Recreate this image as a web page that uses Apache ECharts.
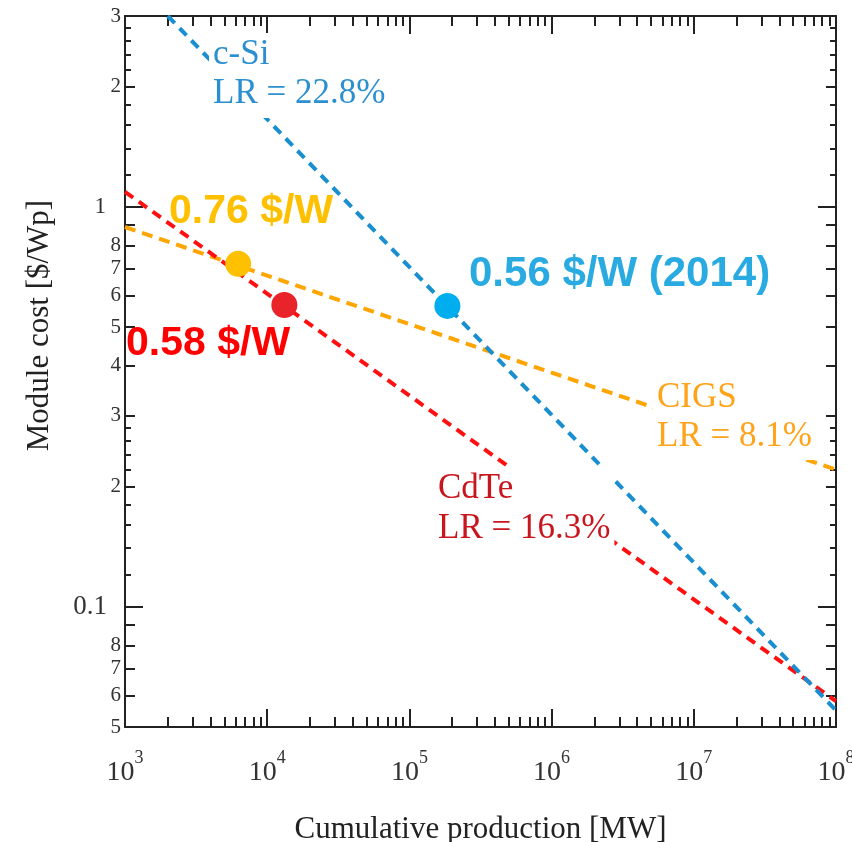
<!DOCTYPE html>
<html><head><meta charset="utf-8">
<script src="https://cdn.jsdelivr.net/npm/echarts@6/dist/echarts.min.js"></script>
<style>html,body{margin:0;padding:0;background:#fff}#c{width:852px;height:842px}</style>
</head><body><div id="c"></div>
<script>
// ---- axis ticks / labels ----
const xDecades = [1e3, 1e4, 1e5, 1e6, 1e7, 1e8];
const xMinorMultipliers = [2, 3, 4, 5, 6, 7, 8, 9];
const yMajorTicks = [0.1, 1];
const yMidTicks = [0.05, 0.06, 0.07, 0.08, 0.09, 0.2, 0.3, 0.4, 0.5, 0.6, 0.7, 0.8, 0.9, 2, 3];
const ySmallTicks = [0.12, 0.14, 0.16, 0.18, 0.22, 0.24, 0.26, 0.28, 1.2, 1.4, 1.6, 1.8, 2.2, 2.4, 2.6, 2.8];
const yLabelValues = [0.05, 0.06, 0.07, 0.08, 0.1, 0.2, 0.3, 0.4, 0.5, 0.6, 0.7, 0.8, 1, 2, 3];
const yLabelTexts = ['5', '6', '7', '8', '0.1', '2', '3', '4', '5', '6', '7', '8', '1', '2', '3'];

// ---- data (cumulative production MW, module cost $/Wp) ----
const cSiLine = [[2000, 3], [1e8, 0.055]];
const cigsLine = [[1e3, 0.89], [1e8, 0.22]];
const cdteLine = [[1e3, 1.09], [1e8, 0.058]];
const cSiPoint = [[1.85e5, 0.565]];
const cigsPoint = [[6250, 0.72]];
const cdtePoint = [[1.32e4, 0.568]];

const xMinorTicks = [];
xDecades.slice(0, -1).forEach(d => xMinorMultipliers.forEach(m => xMinorTicks.push(d * m)));

const AX = '#222';
function xAx(position, ticks, len, opts) {
  return Object.assign({
    type: 'log', logBase: 10, min: 1e3, max: 1e8, position: position, gridIndex: 0,
    axisLine: { show: true, onZero: false, lineStyle: { color: AX, width: 2 } },
    axisTick: { show: true, inside: true, length: len, customValues: ticks, lineStyle: { color: AX, width: 2 } },
    axisLabel: { show: false },
    splitLine: { show: false }, minorTick: { show: false }, minorSplitLine: { show: false }
  }, opts || {});
}
function yAx(position, ticks, len, opts) {
  return Object.assign({
    type: 'log', logBase: 10, min: 0.05, max: 3, position: position, gridIndex: 0,
    axisLine: { show: true, onZero: false, lineStyle: { color: AX, width: 2 } },
    axisTick: { show: true, inside: true, length: len, customValues: ticks, lineStyle: { color: AX, width: 2 } },
    axisLabel: { show: false },
    splitLine: { show: false }, minorTick: { show: false }, minorSplitLine: { show: false }
  }, opts || {});
}

const serif = '"Liberation Serif", "Times New Roman", serif';
const sans = '"Liberation Sans", Arial, sans-serif';

const xAxes = [
  xAx('bottom', xDecades, 18, {
    name: 'Cumulative production [MW]', nameLocation: 'middle', nameGap: 87,
    nameTextStyle: { fontFamily: serif, fontSize: 31, color: '#222' },
    axisLabel: {
      show: true, customValues: xDecades, margin: 31,
      formatter: v => '{b|10}{sup|' + Math.round(Math.log10(v)) + '}',
      rich: {
        b: { fontFamily: serif, fontSize: 28, color: '#333', lineHeight: 30 },
        sup: { fontFamily: serif, fontSize: 18, color: '#333', lineHeight: 18, padding: [0, 0, 30, 0] }
      }
    }
  }),
  xAx('bottom', xMinorTicks, 10, { axisLine: { show: false } }),
  xAx('top', xDecades, 18),
  xAx('top', xMinorTicks, 10, { axisLine: { show: false } })
];

const yAxes = [
  yAx('left', yMajorTicks, 18, {
    name: 'Module cost [$/Wp]', nameLocation: 'middle', nameGap: 70,
    nameTextStyle: { fontFamily: serif, fontSize: 31, color: '#222', padding: [0, 0, 0, 92] },
    axisLabel: {
      show: true, customValues: yLabelValues, margin: 4,
      formatter: v => {
        let t = '';
        yLabelValues.forEach((lv, i) => { if (Math.abs(lv - v) / lv < 1e-6) t = yLabelTexts[i]; });
        if (t === '0.1') return '{big|0.1}';
        if (t === '1') return '{one|1}';
        return '{s|' + t + '}';
      },
      rich: {
        big: { fontFamily: serif, fontSize: 27, color: '#333', padding: [0, 14, 0, 0] },
        one: { fontFamily: serif, fontSize: 23, color: '#333', padding: [0, 15, 0, 0] },
        s: { fontFamily: serif, fontSize: 21, color: '#333' }
      }
    }
  }),
  yAx('left', yMidTicks, 10, { axisLine: { show: false } }),
  yAx('left', ySmallTicks, 6, { axisLine: { show: false } }),
  yAx('right', yMajorTicks, 18),
  yAx('right', yMidTicks, 10, { axisLine: { show: false } }),
  yAx('right', ySmallTicks, 6, { axisLine: { show: false } })
];

function lineSeries(name, data, color, dash) {
  return {
    name: name, type: 'line', data: data, xAxisIndex: 0, yAxisIndex: 0,
    showSymbol: false, symbol: 'none', silent: true, z: 2,
    lineStyle: { color: color, width: 4, type: dash, cap: 'butt' }
  };
}
function pointSeries(name, data, color) {
  return {
    name: name, type: 'scatter', data: data, xAxisIndex: 0, yAxisIndex: 0,
    symbol: 'circle', symbolSize: 26, itemStyle: { color: color, opacity: 1 }, silent: true, z: 5
  };
}

const option = {
  animation: false,
  backgroundColor: '#fff',
  grid: { left: 125, right: 16, top: 16, bottom: 115, containLabel: false, outerBoundsMode: 'none' },
  xAxis: xAxes,
  yAxis: yAxes,
  series: [
    lineSeries('CIGS', cigsLine, '#ffa500', [11, 7]),
    lineSeries('CdTe', cdteLine, '#ff1010', [10, 7]),
    lineSeries('c-Si', cSiLine, '#1a8fd0', [10, 7]),
    pointSeries('CIGS 2014', cigsPoint, '#ffc000'),
    pointSeries('CdTe 2014', cdtePoint, '#e8232a'),
    pointSeries('c-Si 2014', cSiPoint, '#00aeef')
  ],
  graphic: { elements: [
    { type: 'text', left: 209, top: 33, z: 100,
      style: { text: 'c-Si\nLR = 22.8%', font: '35px ' + serif, lineHeight: 39, fill: '#2b8fd0', backgroundColor: '#fff', padding: [2, 4, 5, 4] } },
    { type: 'text', left: 653, top: 376, z: 100,
      style: { text: 'CIGS\nLR = 8.1%', font: '35px ' + serif, lineHeight: 39, fill: '#ffa31a', backgroundColor: '#fff', padding: [2, 4, 4, 4] } },
    { type: 'text', left: 434, top: 467, z: 100,
      style: { text: 'CdTe\nLR = 16.3%', font: '35px ' + serif, lineHeight: 40, fill: '#c8161d', backgroundColor: '#fff', padding: [2, 4, 4, 4] } },
    { type: 'text', left: 469, top: 253, z: 100,
      style: { text: '0.56 $/W (2014)', font: 'bold 42px ' + sans, fill: '#29abe2' } },
    { type: 'text', left: 169, top: 191, z: 100,
      style: { text: '0.76 $/W', font: 'bold 41px ' + sans, fill: '#ffc000' } },
    { type: 'text', left: 126, top: 323, z: 100,
      style: { text: '0.58 $/W', font: 'bold 41px ' + sans, fill: '#ff0000' } }
  ] }
};

const chart = echarts.init(document.getElementById('c'), null, { renderer: 'canvas' });
chart.setOption(option);
</script>
</body></html>
